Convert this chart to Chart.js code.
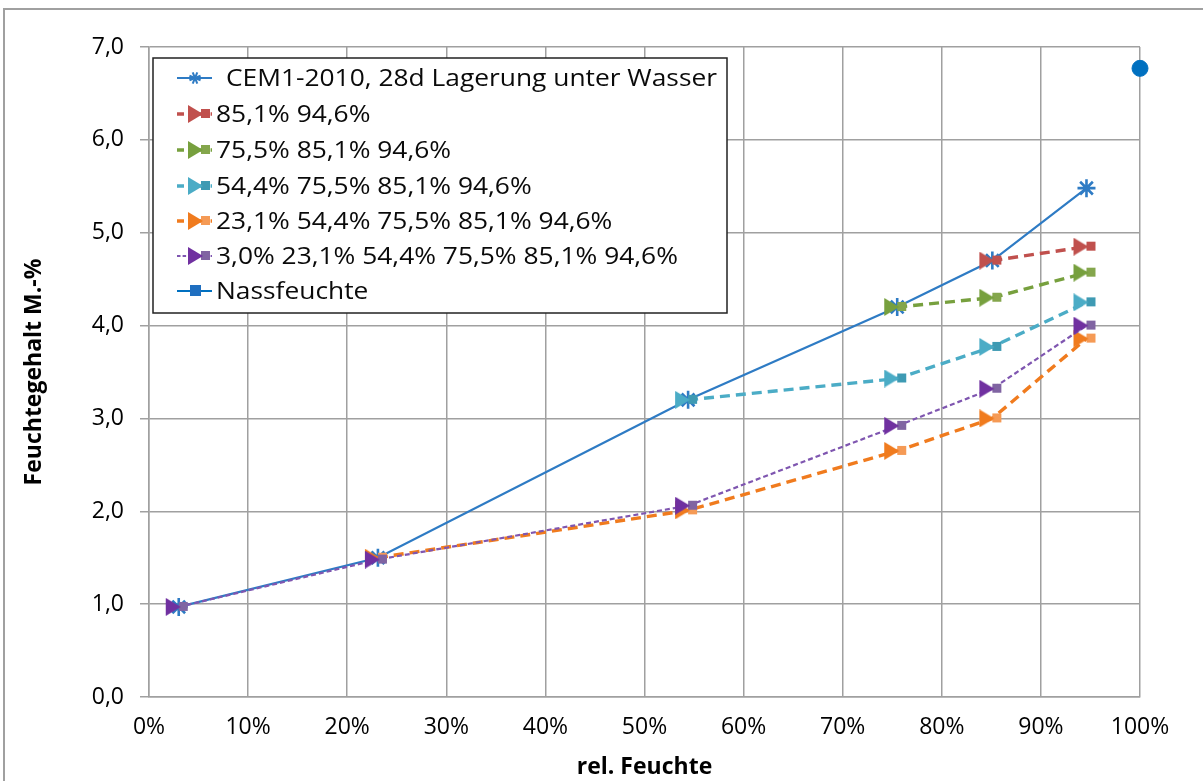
<!DOCTYPE html>
<html><head><meta charset="utf-8">
<script src="https://cdn.jsdelivr.net/npm/chart.js@4.4.1/dist/chart.umd.min.js"></script>
<style>
html,body{margin:0;padding:0;background:#fff;overflow:hidden;width:1203px;height:781px;}
#frame{position:absolute;left:3px;top:8px;width:1260px;height:840px;border:2px solid #a0a0a0;box-sizing:border-box;}
#wrap{position:absolute;left:0;top:0;width:1203px;height:781px;}
</style></head>
<body>
<div id="frame"></div>
<div id="wrap"><canvas id="c" width="1203" height="781"></canvas></div>
<script>
// ---- data ----
const seriesLabels = [
  "CEM1-2010, 28d Lagerung unter Wasser",
  "85,1% 94,6%",
  "75,5% 85,1% 94,6%",
  "54,4% 75,5% 85,1% 94,6%",
  "23,1% 54,4% 75,5% 85,1% 94,6%",
  "3,0% 23,1% 54,4% 75,5% 85,1% 94,6%",
  "Nassfeuchte"
];
const cemX = [3.0, 23.1, 54.4, 75.5, 85.1, 94.6];
const cemY = [0.97, 1.50, 3.20, 4.20, 4.70, 5.48];
const s851X = [85.1, 94.6];
const s851Y = [4.70, 4.85];
const s755X = [75.5, 85.1, 94.6];
const s755Y = [4.20, 4.30, 4.57];
const s544X = [54.4, 75.5, 85.1, 94.6];
const s544Y = [3.20, 3.43, 3.77, 4.25];
const s231X = [23.1, 54.4, 75.5, 85.1, 94.6];
const s231Y = [1.50, 2.01, 2.65, 3.00, 3.86];
const s030X = [3.0, 23.1, 54.4, 75.5, 85.1, 94.6];
const s030Y = [0.97, 1.48, 2.06, 2.92, 3.32, 4.00];
const nassX = [100];
const nassY = [6.77];
const xTicks = [0,10,20,30,40,50,60,70,80,90,100];
const yTicks = [0,1,2,3,4,5,6,7];

function pts(xs, ys){ return xs.map((x,i)=>({x:x, y:ys[i]})); }

// triangle + square marker image (square sits on the data point, triangle just left)
function arrowMarker(triColor, sqColor){
  const c = document.createElement('canvas');
  c.width = 30; c.height = 18;
  const g = c.getContext('2d');
  g.fillStyle = sqColor;
  g.fillRect(15, 4, 9, 9);
  g.fillStyle = triColor;
  g.beginPath(); g.moveTo(2,0); g.lineTo(17,9); g.lineTo(2,18); g.closePath(); g.fill();
  return c;
}

const FONT = "'Open Sans', 'Liberation Sans', sans-serif";
const blue = '#2E7BC4';
const defs = [
  {x:cemX, y:cemY, color:blue, dash:[], w:2.2, style:'star', r:9},
  {x:s851X, y:s851Y, color:'#C0504D', dash:[10,6], w:3.4, img:arrowMarker('#C0504D','#C0504D')},
  {x:s755X, y:s755Y, color:'#77A03E', dash:[10,6], w:3.4, img:arrowMarker('#77A03E','#84A64C')},
  {x:s544X, y:s544Y, color:'#4BACC6', dash:[10,6], w:3.4, img:arrowMarker('#4BACC6','#3E9AB3')},
  {x:s231X, y:s231Y, color:'#F07B1E', dash:[10,6], w:3.4, img:arrowMarker('#F07B1E','#F59A55')},
  {x:s030X, y:s030Y, color:'#7F56B0', dash:[5,3], w:2.2, img:arrowMarker('#7030A0','#8064A2')},
  {x:nassX, y:nassY, color:'#0070C0', dash:[], w:2, style:'circle', r:8}
];

const datasets = defs.map((d,i)=>({
  label: seriesLabels[i],
  data: pts(d.x, d.y),
  borderColor: d.color,
  backgroundColor: d.color,
  borderWidth: d.w,
  borderDash: d.dash,
  pointStyle: d.img || d.style,
  pointRadius: d.r || 9,
  pointBorderWidth: d.style==='star' ? 2.6 : 1,
  pointBorderColor: d.color,
  pointBackgroundColor: d.color,
  showLine: i !== 6,
  tension: 0,
  clip: false,
  order: 10 - i
}));

const legendPlugin = {
  id:'boxLegend',
  afterDraw(chart){
    const ctx = chart.ctx;
    const x0 = 153, y0 = 58, w = 574, h = 255;
    ctx.save();
    ctx.fillStyle = '#fff';
    ctx.fillRect(x0, y0, w, h);
    ctx.strokeStyle = '#222';
    ctx.lineWidth = 1.5;
    ctx.strokeRect(x0, y0, w, h);
    ctx.font = "24px " + FONT;
    ctx.textBaseline = 'middle';
    const sx = 491 / ctx.measureText(seriesLabels[0]).width;
    const rowY = [78, 114, 150, 186, 221, 256, 291];
    defs.forEach((d,i)=>{
      const y = rowY[i];
      ctx.strokeStyle = d.color;
      ctx.lineWidth = d.w;
      ctx.setLineDash(d.dash.length ? [d.dash[0]*0.7, d.dash[1]*0.7] : []);
      ctx.beginPath(); ctx.moveTo(177, y); ctx.lineTo(212, y); ctx.stroke();
      ctx.setLineDash([]);
      if (d.img){
        ctx.drawImage(d.img, 186, y-9);
      } else if (i===0){
        ctx.strokeStyle = d.color; ctx.lineWidth = 2;
        const r = 6, cx = 195;
        for (let k=0;k<4;k++){
          const a = k*Math.PI/4 + Math.PI/8;
          ctx.beginPath();
          ctx.moveTo(cx - r*Math.cos(a), y - r*Math.sin(a));
          ctx.lineTo(cx + r*Math.cos(a), y + r*Math.sin(a));
          ctx.stroke();
        }
      } else {
        ctx.fillStyle = '#1F6FC0';
        ctx.fillRect(190, y-6, 11, 11);
      }
      ctx.fillStyle = '#0a0a0a';
      ctx.save();
      const tx = i===0 ? 226 : 216;
      ctx.translate(tx, y+1);
      ctx.scale(sx, 1);
      ctx.fillText(seriesLabels[i], 0, 0);
      ctx.restore();
    });
    ctx.restore();
  }
};

new Chart(document.getElementById('c'), {
  type:'scatter',
  data:{datasets},
  plugins:[legendPlugin],
  options:{
    responsive:false,
    animation:false,
    events:[],
    layout:{padding:{left:0, top:47, right:63, bottom:0}},
    plugins:{legend:{display:false}, tooltip:{enabled:false}},
    scales:{
      x:{
        type:'linear', min:0, max:100,
        afterBuildTicks(s){ s.ticks = xTicks.map(v=>({value:v})); },
        afterFit(s){ s.height = 84; },
        grid:{color:'#a0a0a0', lineWidth:1.5, drawTicks:false},
        border:{color:'#a0a0a0', width:1.5},
        ticks:{padding:17, color:'#000', font:{family:FONT, size:23},
          callback:v=>v+'%', maxRotation:0, autoSkip:false},
        title:{display:true, text:'rel. Feuchte', color:'#000', padding:{top:0,bottom:0},
          font:{family:FONT, size:23, weight:'bold'}}
      },
      y:{
        type:'linear', min:0, max:7,
        afterBuildTicks(s){ s.ticks = yTicks.map(v=>({value:v})); },
        afterFit(s){ s.width = 149; },
        grid:{color:'#a0a0a0', lineWidth:1.5, tickLength:9},
        border:{color:'#a0a0a0', width:1.5},
        ticks:{padding:16, color:'#000', font:{family:FONT, size:23},
          callback:v=>v.toFixed(1).replace('.',',')},
        title:{display:true, text:'Feuchtegehalt M.-%', color:'#000', padding:{top:21,bottom:0},
          font:{family:FONT, size:23, weight:'bold'}}
      }
    }
  }
});
</script>
</body></html>
